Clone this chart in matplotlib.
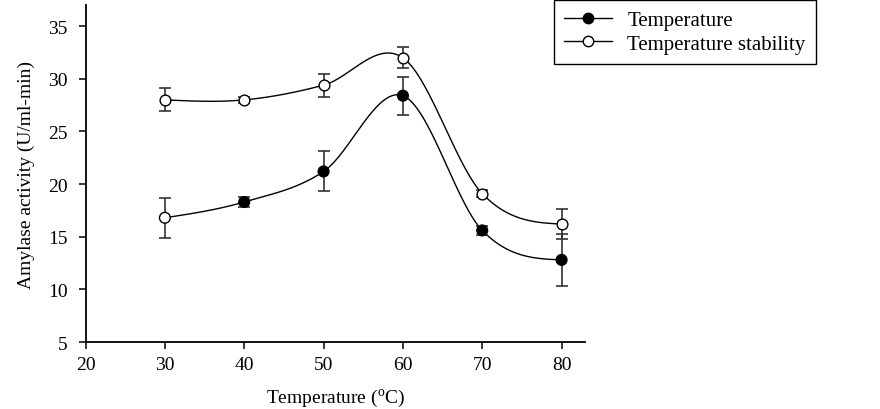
import numpy as np
import matplotlib
matplotlib.use("Agg")
import matplotlib.pyplot as plt
from matplotlib.lines import Line2D

# ---------------------------------------------------------------------------
# Data
# ---------------------------------------------------------------------------
temps = [30, 40, 50, 60, 70, 80]
activity = [16.8, 18.3, 21.2, 28.4, 15.6, 12.8]
activity_err = [1.9, 0.5, 1.9, 1.8, 0.4, 2.5]
stability = [28.0, 28.0, 29.4, 32.0, 19.1, 16.2]
stability_err = [1.1, 0.3, 1.1, 1.0, 0.3, 1.45]

plt.rcParams["font.family"] = ["Liberation Serif", "DejaVu Serif"]
plt.rcParams["mathtext.fontset"] = "custom"
plt.rcParams["mathtext.rm"] = "Liberation Serif"


def smooth_curve(x, y, n=60):
    """Cubic Hermite curve through the points (only for drawing the line).

    Interior tangents are central differences; end tangents use the
    quadratic end condition, which keeps the ends from overshooting."""
    x = np.asarray(x, float)
    y = np.asarray(y, float)
    d = np.diff(y) / np.diff(x)
    m = np.empty_like(y)
    m[1:-1] = (y[2:] - y[:-2]) / (x[2:] - x[:-2])
    m[0] = (3 * d[0] - m[1]) / 2
    m[-1] = (3 * d[-1] - m[-2]) / 2
    xs_all, ys_all = [], []
    for i in range(len(x) - 1):
        h = x[i + 1] - x[i]
        t = np.linspace(0, 1, n)
        h00 = 2 * t ** 3 - 3 * t ** 2 + 1
        h10 = t ** 3 - 2 * t ** 2 + t
        h01 = -2 * t ** 3 + 3 * t ** 2
        h11 = t ** 3 - t ** 2
        xs_all.append(x[i] + t * h)
        ys_all.append(h00 * y[i] + h10 * h * m[i] + h01 * y[i + 1] + h11 * h * m[i + 1])
    return np.concatenate(xs_all), np.concatenate(ys_all)


fig = plt.figure(figsize=(8.8, 4.1), dpi=100)
ax = fig.add_axes([0.0972, 0.1634, 0.568, 0.8216])

err_kw = dict(fmt="none", ecolor="#333333", elinewidth=1.2, capsize=4.5,
              capthick=1.2, zorder=2)

# smooth curves
for vals in (activity, stability):
    xs, ys = smooth_curve(temps, vals)
    ax.plot(xs, ys, color="black", lw=1.0, zorder=1)

ax.errorbar(temps, activity, yerr=activity_err, **err_kw)
ax.errorbar(temps, stability, yerr=stability_err, **err_kw)

# the 30 degC point of the first series is drawn open in the original figure
act_faces = ["white"] + ["black"] * (len(temps) - 1)
ax.scatter(temps, activity, s=60, c=act_faces, edgecolors="black",
           linewidths=1.0, zorder=3)
ax.scatter(temps, stability, s=60, c="white", edgecolors="black",
           linewidths=1.0, zorder=3)

ax.set_xlim(20, 83)
ax.set_ylim(5, 37)
ax.set_xticks(range(20, 81, 10))
ax.set_yticks(range(5, 36, 5))
for side in ("top", "right"):
    ax.spines[side].set_visible(False)
for side in ("left", "bottom"):
    ax.spines[side].set_linewidth(1.3)
ax.tick_params(direction="out", length=5, width=1.1, labelsize=14)
ax.tick_params(axis="y", pad=8)
ax.tick_params(axis="x", pad=5)

ax.set_xlabel("Temperature ($^{\\mathrm{o}}$C)", fontsize=14, labelpad=10)
ax.set_ylabel("Amylase activity (U/ml-min)", fontsize=14, labelpad=9)

handles = [
    Line2D([], [], color="black", lw=1.0, marker="o", markersize=7.5,
           markerfacecolor="black", markeredgecolor="black"),
    Line2D([], [], color="black", lw=1.0, marker="o", markersize=7.5,
           markerfacecolor="white", markeredgecolor="black"),
]
leg = fig.legend(handles, ["Temperature", "Temperature stability"],
                 loc="lower left", bbox_to_anchor=(554 / 880, 0.8415),
                 borderaxespad=0, fontsize=15, handlelength=2.3,
                 fancybox=False, framealpha=1, edgecolor="black",
                 labelspacing=0.2, borderpad=0.5, handletextpad=0.72)
leg.get_frame().set_linewidth(1.0)

fig.savefig("out.png", dpi=100)
